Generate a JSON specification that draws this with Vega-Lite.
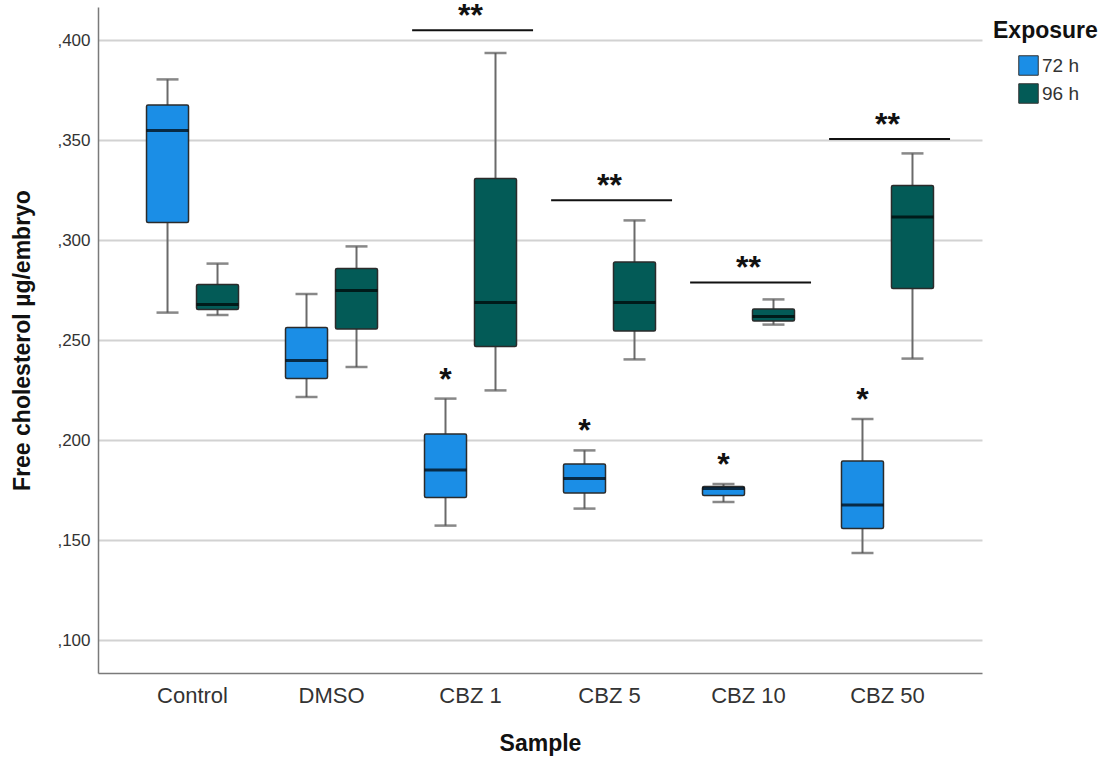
{
  "$schema": "https://vega.github.io/schema/vega-lite/v6.json",
  "autosize": "none",
  "width": 884,
  "height": 666,
  "padding": {"left": 98, "top": 7, "right": 136, "bottom": 93},
  "background": "white",
  "config": {
    "font": "Liberation Sans",
    "view": {"stroke": null},
    "axis": {"labelFont": "Liberation Sans", "titleFont": "Liberation Sans"}
  },
  "datasets": {
    "boxes": [
      {"Sample": "Control", "Exposure": "72 h", "min": 0.2637, "q1": 0.3088, "median": 0.3547, "q3": 0.3675, "max": 0.3803, "sig": ""},
      {"Sample": "Control", "Exposure": "96 h", "min": 0.2625, "q1": 0.2652, "median": 0.2678, "q3": 0.2777, "max": 0.2882, "sig": ""},
      {"Sample": "DMSO", "Exposure": "72 h", "min": 0.2215, "q1": 0.2307, "median": 0.2398, "q3": 0.2562, "max": 0.2730, "sig": ""},
      {"Sample": "DMSO", "Exposure": "96 h", "min": 0.2365, "q1": 0.2555, "median": 0.2747, "q3": 0.2857, "max": 0.2968, "sig": ""},
      {"Sample": "CBZ 1", "Exposure": "72 h", "min": 0.1572, "q1": 0.1712, "median": 0.1850, "q3": 0.2030, "max": 0.2207, "sig": "*"},
      {"Sample": "CBZ 1", "Exposure": "96 h", "min": 0.2248, "q1": 0.2467, "median": 0.2688, "q3": 0.3308, "max": 0.3935, "sig": ""},
      {"Sample": "CBZ 5", "Exposure": "72 h", "min": 0.1657, "q1": 0.1735, "median": 0.1808, "q3": 0.1880, "max": 0.1948, "sig": "*"},
      {"Sample": "CBZ 5", "Exposure": "96 h", "min": 0.2403, "q1": 0.2545, "median": 0.2688, "q3": 0.2890, "max": 0.3098, "sig": ""},
      {"Sample": "CBZ 10", "Exposure": "72 h", "min": 0.1690, "q1": 0.1722, "median": 0.1758, "q3": 0.1767, "max": 0.1780, "sig": "*"},
      {"Sample": "CBZ 10", "Exposure": "96 h", "min": 0.2577, "q1": 0.2595, "median": 0.2618, "q3": 0.2655, "max": 0.2703, "sig": ""},
      {"Sample": "CBZ 50", "Exposure": "72 h", "min": 0.1435, "q1": 0.1558, "median": 0.1675, "q3": 0.1895, "max": 0.2105, "sig": "*"},
      {"Sample": "CBZ 50", "Exposure": "96 h", "min": 0.2407, "q1": 0.2758, "median": 0.3115, "q3": 0.3272, "max": 0.3433, "sig": ""}
    ],
    "sigbars": [
      {"Sample": "CBZ 1", "y": 0.4049, "label": "**"},
      {"Sample": "CBZ 5", "y": 0.3199, "label": "**"},
      {"Sample": "CBZ 10", "y": 0.2788, "label": "**"},
      {"Sample": "CBZ 50", "y": 0.3505, "label": "**"}
    ]
  },
  "encoding": {
    "x": {
      "field": "Sample", "type": "nominal",
      "sort": ["Control", "DMSO", "CBZ 1", "CBZ 5", "CBZ 10", "CBZ 50"],
      "scale": {"domain": ["Control", "DMSO", "CBZ 1", "CBZ 5", "CBZ 10", "CBZ 50"], "paddingInner": 0, "paddingOuter": 0.18},
      "axis": {
        "title": "Sample", "labelAngle": 0, "ticks": false, "domainColor": "#7a7a7a", "domainWidth": 1.5,
        "labelFontSize": 22, "labelColor": "#333333", "labelPadding": 12,
        "titleFontSize": 23, "titleFontWeight": "bold", "titleColor": "#111111", "titlePadding": 26
      }
    }
  },
  "layer": [
    {
      "data": {"name": "boxes"},
      "mark": {"type": "rule", "color": "#6a6a6a", "strokeWidth": 2},
      "encoding": {
        "xOffset": {"field": "Exposure", "type": "nominal", "scale": {"domain": ["72 h", "96 h"], "paddingInner": 0, "paddingOuter": 0.39}},
        "y": {
          "field": "min", "type": "quantitative",
          "scale": {"domain": [0.0835, 0.4165], "nice": false, "zero": false},
          "axis": {
            "title": "Free cholesterol µg/embryo",
            "values": [0.1, 0.15, 0.2, 0.25, 0.3, 0.35, 0.4],
            "labelExpr": "replace(format(datum.value, '.3f'), '0.', ',')",
            "ticks": false, "domainColor": "#7a7a7a", "domainWidth": 1.5,
            "grid": true, "gridColor": "#d2d2d2", "gridWidth": 2,
            "labelFontSize": 17, "labelColor": "#333333", "labelPadding": 8,
            "titleFontSize": 23, "titleFontWeight": "bold", "titleColor": "#111111", "titlePadding": 22
          }
        },
        "y2": {"field": "max"}
      }
    },
    {
      "data": {"name": "boxes"},
      "mark": {"type": "tick", "color": "#555555", "thickness": 2.5, "size": 22},
      "encoding": {
        "xOffset": {"field": "Exposure", "type": "nominal"},
        "y": {"field": "min", "type": "quantitative"}
      }
    },
    {
      "data": {"name": "boxes"},
      "mark": {"type": "tick", "color": "#555555", "thickness": 2.5, "size": 22},
      "encoding": {
        "xOffset": {"field": "Exposure", "type": "nominal"},
        "y": {"field": "max", "type": "quantitative"}
      }
    },
    {
      "data": {"name": "boxes"},
      "mark": {"type": "bar", "width": 42, "stroke": "#2b2b2b", "strokeWidth": 1.5, "cornerRadius": 1.5},
      "encoding": {
        "xOffset": {"field": "Exposure", "type": "nominal"},
        "y": {"field": "q1", "type": "quantitative"},
        "y2": {"field": "q3"},
        "color": {
          "field": "Exposure", "type": "nominal",
          "scale": {"domain": ["72 h", "96 h"], "range": ["#1b8ee6", "#035b57"]},
          "legend": {
            "title": "Exposure", "orient": "none", "legendX": 895, "legendY": 13,
            "titleFontSize": 23, "titleFontWeight": "bold", "titleColor": "#111111", "titleAnchor": "start", "titlePadding": 12,
            "symbolType": "square", "symbolSize": 380, "symbolStrokeColor": "#333333", "symbolStrokeWidth": 1, "symbolOffset": 25,
            "labelFontSize": 19, "labelColor": "#333333", "labelOffset": 3, "rowPadding": 3, "padding": 0
          }
        }
      }
    },
    {
      "data": {"name": "boxes"},
      "mark": {"type": "tick", "color": "#000000", "thickness": 3, "size": 42},
      "encoding": {
        "xOffset": {"field": "Exposure", "type": "nominal"},
        "y": {"field": "median", "type": "quantitative"}
      }
    },
    {
      "data": {"name": "boxes"},
      "transform": [{"filter": "datum.sig != ''"}],
      "mark": {"type": "text", "fontSize": 32, "fontWeight": "bold", "color": "#111111", "baseline": "alphabetic", "dy": -9},
      "encoding": {
        "xOffset": {"field": "Exposure", "type": "nominal"},
        "y": {"field": "max", "type": "quantitative"},
        "text": {"field": "sig"}
      }
    },
    {
      "data": {"name": "sigbars"},
      "mark": {"type": "rule", "color": "#111111", "strokeWidth": 2},
      "encoding": {
        "x": {"field": "Sample", "type": "nominal", "bandPosition": 0.08},
        "x2": {"field": "Sample", "bandPosition": 0.95},
        "y": {"field": "y", "type": "quantitative"}
      }
    },
    {
      "data": {"name": "sigbars"},
      "mark": {"type": "text", "fontSize": 32, "fontWeight": "bold", "color": "#111111", "baseline": "alphabetic", "dy": -4},
      "encoding": {
        "x": {"field": "Sample", "type": "nominal", "bandPosition": 0.5},
        "y": {"field": "y", "type": "quantitative"},
        "text": {"field": "label"}
      }
    }
  ]
}
